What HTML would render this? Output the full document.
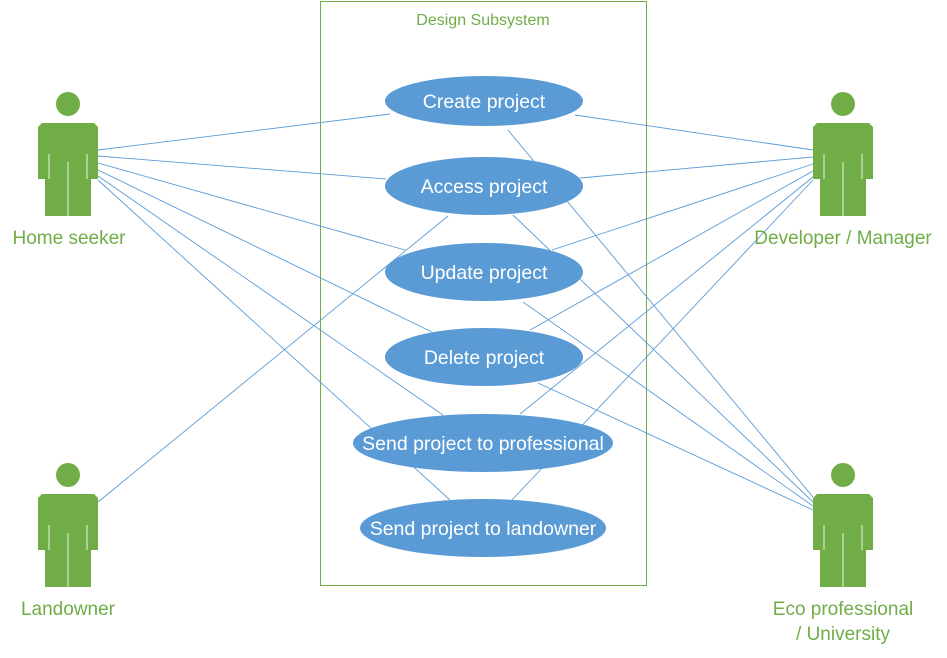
<!DOCTYPE html>
<html><head><style>body{margin:0;background:#fff}svg{display:block}</style></head><body>
<svg width="947" height="658" viewBox="0 0 947 658" xmlns="http://www.w3.org/2000/svg" font-family="Liberation Sans, sans-serif">
<defs>
<g id="actor" fill="#70AD47">
<circle cx="0" cy="0" r="12"/>
<path d="M-26 19 H26 L30 23 V75 H23 V112 H-23 V75 H-30 V23 Z"/>
<path d="M-19 50 V75 M19 50 V75 M0 58 V112" stroke="#fff" stroke-width="1.2" opacity="0.7"/>
</g>
</defs>
<rect x="320.5" y="1.5" width="326" height="584" fill="none" stroke="#70AD47" stroke-width="1"/>
<text x="483" y="25" text-anchor="middle" font-size="16" fill="#70AD47">Design Subsystem</text>
<g stroke="#5B9BD5" stroke-width="0.9" fill="none">
<line x1="98" y1="150" x2="390" y2="114"/>
<line x1="98" y1="156" x2="386" y2="179"/>
<line x1="98" y1="163" x2="405" y2="250"/>
<line x1="98" y1="170" x2="432" y2="332"/>
<line x1="98" y1="176" x2="443" y2="415"/>
<line x1="98" y1="180" x2="450" y2="500"/>
<line x1="98" y1="502" x2="448" y2="216"/>
<line x1="813" y1="150" x2="575" y2="115"/>
<line x1="813" y1="157" x2="580" y2="178"/>
<line x1="813" y1="164" x2="552" y2="250"/>
<line x1="813" y1="171" x2="530" y2="330"/>
<line x1="813" y1="177" x2="520" y2="414"/>
<line x1="813" y1="180" x2="512" y2="500"/>
<line x1="813" y1="497" x2="508" y2="130"/>
<line x1="813" y1="502" x2="513" y2="215"/>
<line x1="813" y1="506" x2="523" y2="302"/>
<line x1="813" y1="510" x2="538" y2="383"/>
</g>
<g fill="#5B9BD5">
<ellipse cx="484" cy="101" rx="99" ry="25"/>
<ellipse cx="484" cy="186" rx="99" ry="29"/>
<ellipse cx="484" cy="272" rx="99" ry="29"/>
<ellipse cx="484" cy="357" rx="99" ry="29"/>
<ellipse cx="483" cy="443" rx="130" ry="29"/>
<ellipse cx="483" cy="528" rx="123" ry="29"/>
</g>
<g fill="#fff" font-size="19.5" text-anchor="middle">
<text x="484" y="108">Create project</text>
<text x="484" y="193">Access project</text>
<text x="484" y="279">Update project</text>
<text x="484" y="364">Delete project</text>
<text x="483" y="450">Send project to professional</text>
<text x="483" y="535">Send project to landowner</text>
</g>
<use href="#actor" x="68" y="104"/>
<use href="#actor" x="843" y="104"/>
<use href="#actor" x="68" y="475"/>
<use href="#actor" x="843" y="475"/>
<g fill="#70AD47" font-size="19" text-anchor="middle">
<text x="69" y="244">Home seeker</text>
<text x="843" y="244">Developer / Manager</text>
<text x="68" y="615">Landowner</text>
<text x="843" y="615">Eco professional</text>
<text x="843" y="640">/ University</text>
</g>
</svg>
</body></html>
